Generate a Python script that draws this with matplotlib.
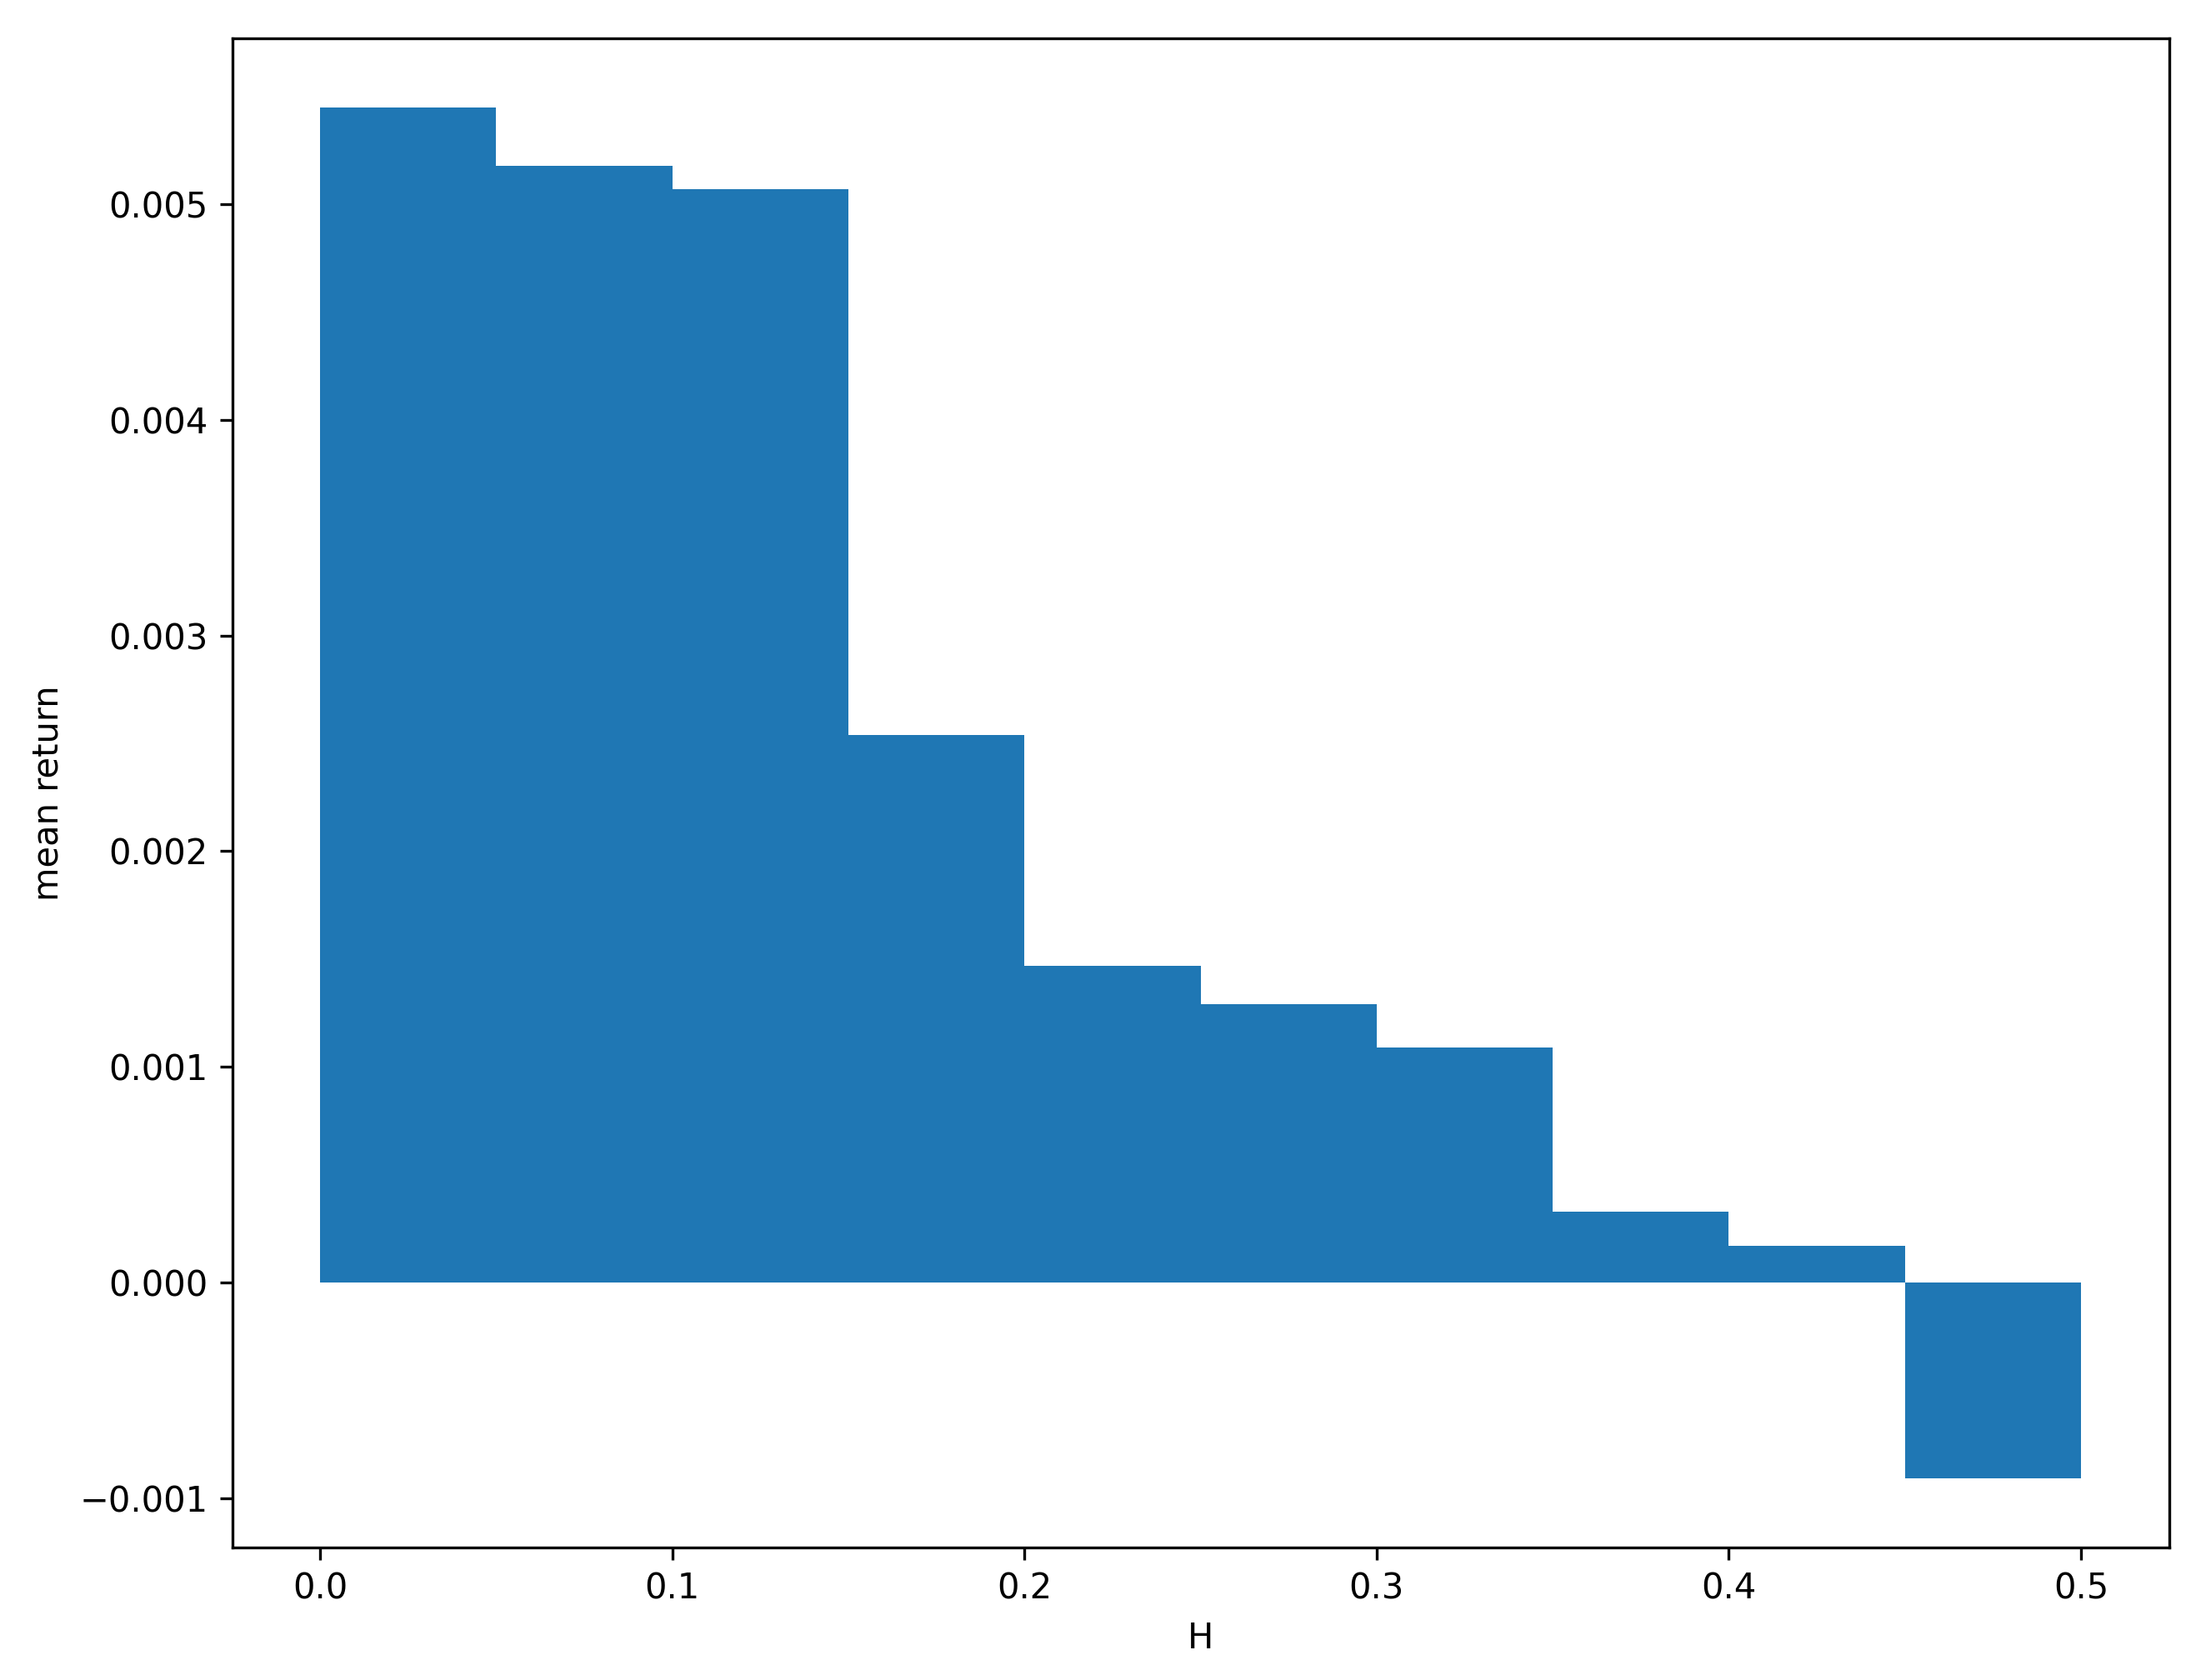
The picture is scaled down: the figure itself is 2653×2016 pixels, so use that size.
import matplotlib
matplotlib.use("Agg")
import matplotlib.pyplot as plt
import numpy as np

# bin left edges of H and the mean return in each bin
h_edges = [0.0, 0.05, 0.10, 0.15, 0.20, 0.25, 0.30, 0.35, 0.40, 0.45]
mean_ret = [0.00545, 0.00518, 0.00507, 0.00254, 0.00147, 0.00129, 0.00109, 0.00033, 0.00017, -0.00091]

fig = plt.figure(figsize=(2653/300, 2016/300), dpi=300)
ax = fig.add_subplot(111)
fig.subplots_adjust(left=0.105, right=0.981, top=0.977, bottom=0.079)

ax.bar(h_edges, mean_ret, width=0.05, align="edge", color="#1f77b4")
ax.set_xlabel("H")
ax.set_ylabel("mean return")

fig.savefig("out.png", dpi=300)
